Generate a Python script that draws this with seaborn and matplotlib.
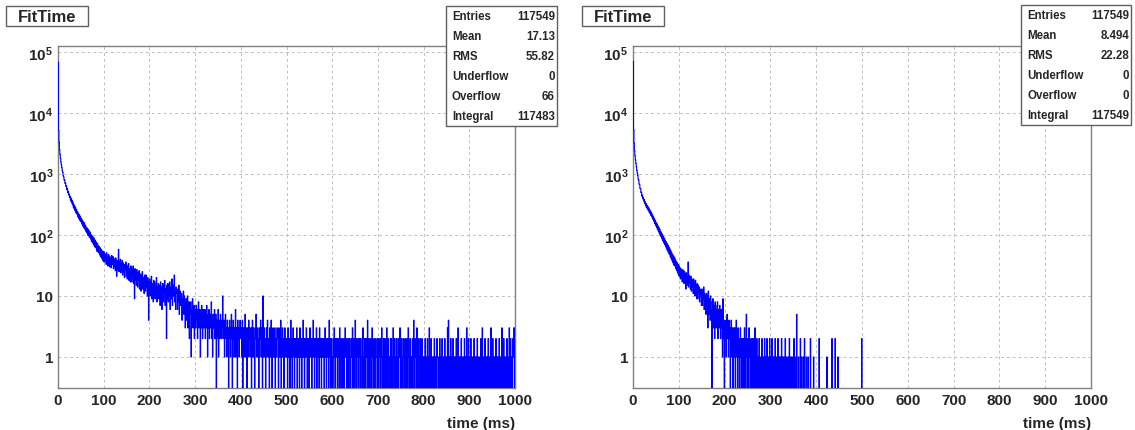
import numpy as np
import matplotlib
matplotlib.use("Agg")
import matplotlib.pyplot as plt
from matplotlib.patches import Rectangle
from matplotlib.ticker import LogLocator, MultipleLocator, NullFormatter
import seaborn as sns

# FitTime histograms, counts per 1 ms bin
left_000 = [
    68214, 5187, 3312, 2498, 2087, 1793, 1571, 1402, 1266, 1131, 1061, 928, 903, 801, 792, 702, 711, 622, 634, 551,
    571, 498, 519, 452, 470, 411, 431, 372, 399, 341, 371, 318, 344, 289, 316, 268, 297, 249, 278, 231,
    258, 219, 241, 199, 228, 187, 214, 175, 203, 166, 189, 162, 151, 176, 140, 163, 131, 158, 149, 122,
    141, 114, 133, 108, 127, 99, 121, 117, 92, 112, 108, 86, 101, 78, 97, 75, 93, 71, 89, 66,
    83, 63, 79, 61, 75, 54, 71, 66, 51, 65, 63, 47, 61, 44, 58, 42, 55, 39, 53, 37,
]
left_100 = [
    53, 36, 49, 38, 47, 33, 51, 37, 44, 31, 48, 34, 45, 30, 43, 36, 29, 46, 33, 40,
    44, 28, 41, 31, 39, 26, 42, 30, 21, 38, 27, 37, 58, 25, 36, 29, 40, 24, 34, 27,
    38, 22, 35, 25, 33, 20, 31, 27, 36, 21, 32, 19, 30, 23, 34, 18, 28, 25, 17, 31,
    29, 17, 27, 20, 31, 16, 26, 9, 28, 18, 25, 15, 27, 19, 14, 24, 18, 26, 13, 22,
    23, 12, 21, 16, 25, 13, 20, 15, 11, 22, 19, 12, 22, 14, 18, 10, 20, 13, 4, 17,
]
left_200 = [
    19, 10, 17, 12, 21, 9, 16, 13, 8, 18, 11, 17, 9, 15, 12, 20, 8, 14, 10, 16,
    9, 15, 11, 7, 17, 10, 14, 6, 13, 16, 8, 14, 11, 18, 7, 13, 10, 2, 15, 9,
    16, 8, 13, 10, 17, 6, 12, 14, 9, 19, 7, 13, 10, 15, 22, 8, 12, 6, 14, 11,
    13, 6, 11, 8, 15, 5, 10, 12, 7, 9, 11, 4, 9, 7, 12, 5, 10, 6, 3, 8,
    9, 4, 7, 10, 3, 6, 8, 2, 7, 5, 8, 1, 6, 4, 9, 3, 5, 7, 2, 6,
]
left_300 = [
    5, 3, 7, 4, 6, 2, 5, 8, 3, 4, 6, 1, 5, 3, 7, 4, 2, 6, 5, 3,
    4, 6, 2, 5, 3, 7, 4, 1, 5, 3, 6, 2, 4, 5, 3, 8, 2, 4, 1, 5,
    3, 4, 6, 2, 3, 5, 0, 4, 2, 3, 6, 1, 4, 3, 2, 5, 3, 4, 2, 3,
    10, 3, 2, 4, 1, 3, 5, 2, 3, 1, 4, 2, 3, 0, 2, 4, 3, 1, 2, 5,
    2, 0, 3, 4, 2, 1, 3, 2, 6, 1, 3, 2, 0, 4, 2, 3, 1, 2, 4, 3,
]
left_400 = [
    2, 3, 1, 4, 0, 2, 3, 1, 2, 5, 1, 3, 2, 0, 3, 2, 1, 4, 2, 3,
    1, 2, 3, 0, 2, 4, 1, 3, 2, 1, 0, 3, 2, 5, 1, 2, 3, 1, 2, 0,
    3, 1, 2, 4, 2, 1, 3, 0, 10, 2, 1, 3, 2, 1, 0, 2, 3, 1, 4, 2,
    1, 2, 0, 3, 1, 2, 4, 1, 0, 2, 3, 1, 2, 1, 3, 0, 2, 1, 2, 3,
    2, 1, 0, 3, 1, 2, 1, 4, 0, 2, 1, 3, 1, 2, 0, 1, 3, 2, 1, 2,
]
left_500 = [
    1, 2, 0, 3, 1, 2, 1, 0, 2, 4, 1, 2, 0, 1, 3, 2, 1, 0, 2, 1,
    2, 1, 3, 0, 1, 2, 1, 2, 0, 3, 1, 2, 1, 0, 2, 1, 4, 1, 2, 0,
    1, 2, 1, 3, 2, 0, 1, 2, 1, 0, 2, 3, 1, 1, 2, 0, 1, 2, 4, 1,
    2, 0, 1, 2, 1, 3, 0, 2, 1, 1, 2, 0, 3, 1, 2, 1, 0, 2, 1, 2,
    1, 2, 0, 1, 3, 1, 2, 0, 2, 1, 1, 2, 0, 4, 1, 2, 1, 0, 2, 1,
]
left_600 = [
    1, 0, 2, 1, 3, 1, 0, 2, 1, 1, 2, 0, 1, 2, 1, 0, 3, 1, 2, 0,
    1, 2, 1, 0, 1, 2, 0, 1, 3, 1, 2, 1, 0, 1, 2, 1, 0, 2, 1, 1,
    0, 2, 1, 1, 3, 0, 1, 2, 1, 0, 4, 1, 2, 0, 1, 1, 2, 0, 1, 2,
    1, 0, 2, 1, 1, 0, 2, 3, 1, 0, 1, 2, 1, 0, 2, 1, 1, 4, 0, 1,
    2, 1, 0, 1, 2, 1, 0, 3, 1, 1, 0, 2, 1, 0, 1, 2, 1, 1, 0, 2,
]
left_700 = [
    1, 0, 2, 1, 1, 0, 2, 1, 3, 0, 1, 1, 2, 0, 1, 2, 1, 0, 1, 3,
    0, 1, 2, 1, 0, 1, 1, 2, 0, 2, 1, 0, 1, 3, 1, 0, 2, 1, 1, 0,
    2, 1, 0, 1, 2, 0, 1, 1, 3, 1, 0, 2, 1, 0, 1, 2, 1, 0, 1, 2,
    1, 0, 1, 2, 0, 1, 3, 1, 0, 1, 2, 1, 0, 1, 1, 2, 0, 1, 4, 1,
    0, 2, 1, 1, 0, 3, 1, 0, 2, 1, 1, 0, 2, 1, 0, 1, 2, 0, 1, 1,
]
left_800 = [
    0, 1, 0, 2, 1, 0, 0, 1, 2, 0, 1, 0, 3, 1, 0, 0, 2, 1, 0, 1,
    1, 0, 0, 2, 1, 0, 1, 0, 0, 2, 1, 1, 0, 0, 1, 2, 0, 1, 0, 0,
    2, 1, 0, 0, 1, 0, 2, 0, 1, 0, 0, 1, 3, 0, 4, 1, 0, 1, 0, 2,
    0, 1, 0, 0, 2, 1, 0, 1, 0, 0, 1, 2, 0, 1, 0, 3, 0, 1, 0, 1,
    1, 0, 2, 0, 0, 1, 1, 0, 0, 2, 0, 1, 0, 1, 3, 0, 0, 1, 2, 0,
]
left_900 = [
    0, 1, 0, 2, 1, 0, 0, 1, 0, 0, 2, 1, 0, 1, 0, 0, 1, 2, 0, 1,
    1, 0, 0, 1, 0, 2, 0, 1, 3, 0, 0, 1, 0, 1, 2, 0, 0, 1, 0, 1,
    0, 2, 0, 1, 0, 0, 1, 3, 0, 1, 0, 2, 0, 0, 1, 0, 1, 0, 2, 0,
    1, 0, 1, 0, 0, 2, 1, 0, 0, 1, 0, 3, 0, 1, 0, 2, 0, 0, 1, 0,
    0, 1, 2, 0, 1, 0, 0, 3, 1, 0, 2, 0, 1, 0, 0, 2, 1, 3, 3, 0,
]

right_000 = [
    70123, 5342, 3187, 2401, 1986, 1702, 1489, 1297, 1148, 1032, 951, 822, 791, 680, 671, 578, 577, 496, 502, 431,
    449, 392, 412, 359, 381, 331, 351, 303, 326, 281, 306, 268, 291, 252, 276, 236, 259, 224, 244, 208,
    229, 196, 213, 181, 199, 168, 186, 154, 174, 143, 161, 134, 152, 124, 141, 115, 132, 106, 124, 99,
    114, 93, 107, 86, 100, 80, 94, 74, 88, 69, 82, 64, 77, 59, 72, 55, 68, 51, 63, 48,
    59, 44, 55, 41, 51, 38, 48, 35, 45, 32, 43, 31, 40, 28, 37, 26, 35, 24, 33, 22,
]
right_100 = [
    31, 21, 29, 19, 28, 20, 26, 17, 27, 18, 26, 16, 25, 18, 23, 13, 24, 17, 21, 15,
    36, 14, 22, 16, 20, 13, 21, 12, 19, 14, 18, 11, 19, 13, 17, 10, 18, 12, 15, 9,
    16, 9, 15, 11, 14, 8, 13, 10, 12, 7, 13, 7, 12, 9, 14, 6, 11, 8, 10, 5,
    11, 6, 10, 3, 12, 5, 9, 7, 4, 10, 8, 4, 0, 6, 9, 3, 7, 5, 2, 8,
    7, 3, 6, 4, 8, 2, 5, 6, 3, 7, 4, 2, 6, 3, 5, 1, 9, 2, 4, 0,
]
right_200 = [
    3, 2, 4, 1, 3, 5, 2, 3, 1, 4, 2, 3, 0, 2, 4, 1, 3, 2, 0, 3,
    2, 1, 3, 0, 2, 4, 1, 2, 0, 3, 1, 2, 0, 1, 3, 2, 0, 1, 2, 0,
    1, 2, 0, 3, 1, 0, 2, 5, 1, 0, 2, 1, 0, 3, 1, 2, 0, 1, 0, 2,
    1, 0, 2, 1, 0, 1, 3, 0, 1, 0, 2, 1, 0, 1, 0, 2, 1, 0, 0, 1,
    0, 2, 1, 0, 1, 0, 0, 2, 1, 0, 1, 0, 2, 0, 1, 0, 0, 1, 2, 0,
]
right_300 = [
    1, 0, 0, 2, 0, 1, 0, 1, 0, 0, 2, 1, 0, 0, 1, 0, 2, 0, 0, 1,
    0, 1, 0, 0, 2, 0, 1, 0, 0, 1, 0, 0, 2, 0, 1, 0, 0, 0, 1, 0,
    0, 2, 0, 0, 1, 0, 0, 1, 0, 0, 0, 2, 0, 1, 0, 0, 0, 5, 0, 0,
    0, 1, 0, 0, 0, 2, 0, 0, 1, 0, 0, 0, 1, 0, 2, 0, 0, 0, 1, 0,
    0, 0, 1, 0, 0, 0, 0, 2, 0, 0, 0, 0, 0, 0, 1, 0, 0, 0, 0, 0,
]
# the last few isolated entries of the right histogram (time in ms, count)
right_late_time = [406.5, 423.5, 434.5, 441.5, 447.5, 499.5]
right_late_count = [2, 1, 2, 2, 1, 2]

stat_names = ["Entries", "Mean", "RMS", "Underflow", "Overflow", "Integral"]
left_stats = ["117549", "17.13", "55.82", "0", "66", "117483"]
right_stats = ["117549", "8.494", "22.28", "0", "0", "117549"]

x_ticks = list(range(0, 1001, 100))
y_ticks = [1, 10, 100, 1000, 10000, 100000]
y_tick_labels = ["1", "10", r"$\mathbf{10^{2}}$", r"$\mathbf{10^{3}}$",
                 r"$\mathbf{10^{4}}$", r"$\mathbf{10^{5}}$"]

X_RANGE = (0, 1000)
Y_RANGE = (0.31, 1.25e5)
N_BINS = 1000
W, H = 1135, 431
BLUE = "#0000ff"
FRAME = "#808080"

sns.set_style("white")
plt.rcParams["font.family"] = ["Liberation Sans", "DejaVu Sans"]
plt.rcParams["mathtext.fontset"] = "custom"
plt.rcParams["mathtext.rm"] = "Liberation Sans"
plt.rcParams["mathtext.bf"] = "Liberation Sans:bold"
plt.rcParams["path.simplify"] = False


def fx(px):
    return px / W


def fy(py):
    return 1 - py / H


def draw_panel(fig, left_px, right_px, times, counts, stats, title_box, stats_box):
    ax = fig.add_axes([fx(left_px), fy(389), (right_px - left_px) / W, 342 / H])

    sns.histplot(x=times, weights=counts, bins=N_BINS, binrange=X_RANGE,
                 element="step", fill=False, color=BLUE, linewidth=0.8,
                 zorder=3, ax=ax)

    ax.set_yscale("log")
    ax.set_xlim(X_RANGE)
    ax.set_ylim(Y_RANGE)
    ax.set_xticks(x_ticks, [str(v) for v in x_ticks])
    ax.xaxis.set_minor_locator(MultipleLocator(20))
    ax.set_yticks(y_ticks, y_tick_labels)
    ax.yaxis.set_minor_locator(LogLocator(base=10, subs=np.arange(2, 10), numticks=20))
    ax.yaxis.set_minor_formatter(NullFormatter())

    ax.tick_params(axis="both", which="both", direction="in", color=FRAME,
                   labelsize=11, top=False, right=False)
    ax.tick_params(axis="y", which="major", length=10, pad=3.5)
    ax.tick_params(axis="y", which="minor", length=5)
    ax.tick_params(axis="x", which="major", length=7, pad=3.5)
    ax.tick_params(axis="x", which="minor", length=3.5)
    for lab in ax.get_xticklabels() + ax.get_yticklabels():
        lab.set_fontweight("bold")

    ax.grid(True, which="major", linestyle=(0, (3, 3)), color="#c0c0c0", linewidth=0.7)
    for sp in ax.spines.values():
        sp.set_color(FRAME)
        sp.set_linewidth(1.0)

    ax.set_ylabel("")
    ax.set_xlabel("time (ms)", loc="right", fontsize=11, fontweight="bold")
    ax.xaxis.set_label_coords(1.0, -0.083)

    # title box
    tx0, ty0, tx1, ty1 = title_box
    fig.add_artist(Rectangle((fx(tx0), fy(ty1)), (tx1 - tx0) / W, (ty1 - ty0) / H,
                             transform=fig.transFigure, facecolor="white",
                             edgecolor="#606060", linewidth=1.0, zorder=5))
    fig.text(fx((tx0 + tx1) / 2), fy((ty0 + ty1) / 2), "FitTime", ha="center",
             va="center", fontsize=12, fontweight="bold", zorder=6)

    # statistics box
    sx0, sy0, sx1, sy1 = stats_box
    fig.add_artist(Rectangle((fx(sx0), fy(sy1)), (sx1 - sx0) / W, (sy1 - sy0) / H,
                             transform=fig.transFigure, facecolor="white",
                             edgecolor="#606060", linewidth=1.0, zorder=5))
    for i, (name, val) in enumerate(zip(stat_names, stats)):
        row_y = fy(sy0 + 10 + 20 * i)
        fig.text(fx(sx0 + 6), row_y, name, ha="left", va="center",
                 fontsize=8.3, fontweight="bold", zorder=6)
        fig.text(fx(sx1 - 2), row_y, val, ha="right", va="center",
                 fontsize=8.3, fontweight="bold", zorder=6)
    return ax


left_counts = (left_000 + left_100 + left_200 + left_300 + left_400
               + left_500 + left_600 + left_700 + left_800 + left_900)
left_times = np.arange(len(left_counts)) + 0.5

right_dense = right_000 + right_100 + right_200 + right_300
right_times = np.concatenate([np.arange(len(right_dense)) + 0.5, right_late_time])
right_counts = right_dense + right_late_count

fig = plt.figure(figsize=(W / 100, H / 100), dpi=100)
fig.patch.set_facecolor("white")

draw_panel(fig, 58, 515, left_times, left_counts, left_stats,
           (6, 7, 88, 27), (446, 7, 557, 127))
draw_panel(fig, 633, 1091, right_times, right_counts, right_stats,
           (582, 7, 664, 27), (1021, 6, 1131, 126))

fig.savefig("out.png", dpi=100)
